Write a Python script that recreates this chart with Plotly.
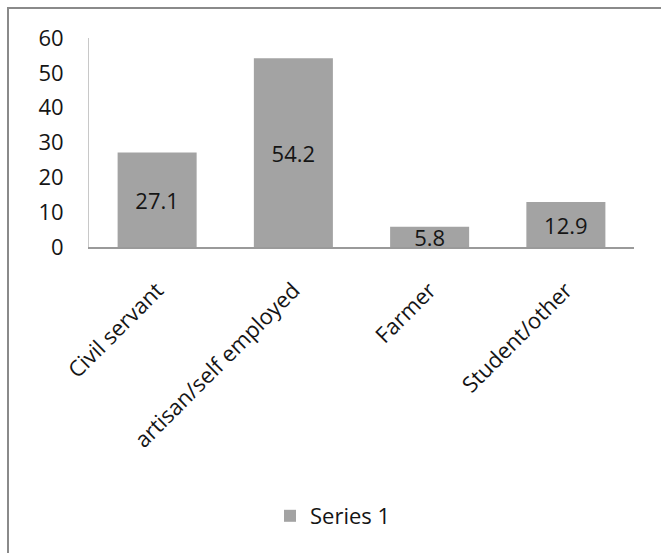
import plotly.graph_objects as go

categories = ["Civil servant", "artisan/self employed", "Farmer", "Student/other"]
values = [27.1, 54.2, 5.8, 12.9]
series_name = "Series 1"
y_ticks = [0, 10, 20, 30, 40, 50, 60]

FONT = "Open Sans"
FS = 22
TXT = "#151515"
W, H = 661, 553
L, R, T, B = 89, 27, 38, 306
plot_w = W - L - R
plot_h = H - T - B


def px_to_paper_x(px):
    return (px - L) / plot_w


def px_to_paper_y(py):
    return (H - B - py) / plot_h


fig = go.Figure()
fig.add_trace(go.Bar(
    x=categories,
    y=values,
    name=series_name,
    marker=dict(color="#a3a3a3", line=dict(width=0)),
    texttemplate="%{y}",
    textposition="inside",
    insidetextanchor="middle",
    constraintext="none",
    textfont=dict(family=FONT, size=FS, color=TXT),
    cliponaxis=False,
    showlegend=True,
))

# outer chart frame
fig.add_shape(
    type="rect", xref="paper", yref="paper",
    x0=px_to_paper_x(8), x1=px_to_paper_x(672),
    y0=px_to_paper_y(575), y1=px_to_paper_y(8),
    line=dict(color="#8a8a8a", width=2), fillcolor="rgba(0,0,0,0)",
    layer="below",
)

fig.update_layout(
    width=W, height=H,
    margin=dict(l=L, r=R, t=T, b=B),
    paper_bgcolor="white",
    plot_bgcolor="white",
    bargap=0.42,
    font=dict(family=FONT, size=FS, color=TXT),
    showlegend=True,
    legend=dict(
        x=px_to_paper_x(270), y=px_to_paper_y(516),
        xanchor="left", yanchor="middle",
        font=dict(family=FONT, size=FS, color=TXT),
        bgcolor="rgba(0,0,0,0)",
    ),
)
fig.update_xaxes(
    showline=True, linecolor="#9a9a9a", linewidth=1.5,
    showgrid=False, ticks="", tickangle=-45,
    ticklabelstandoff=20,
    tickfont=dict(family=FONT, size=FS, color=TXT),
)
fig.update_yaxes(
    range=[0, 60], tickvals=y_ticks,
    showline=True, linecolor="#c8c8c8", linewidth=1,
    showgrid=False, ticks="", zeroline=False,
    ticklabelstandoff=20,
    tickfont=dict(family=FONT, size=FS, color=TXT),
)

fig.write_html("out.html")
